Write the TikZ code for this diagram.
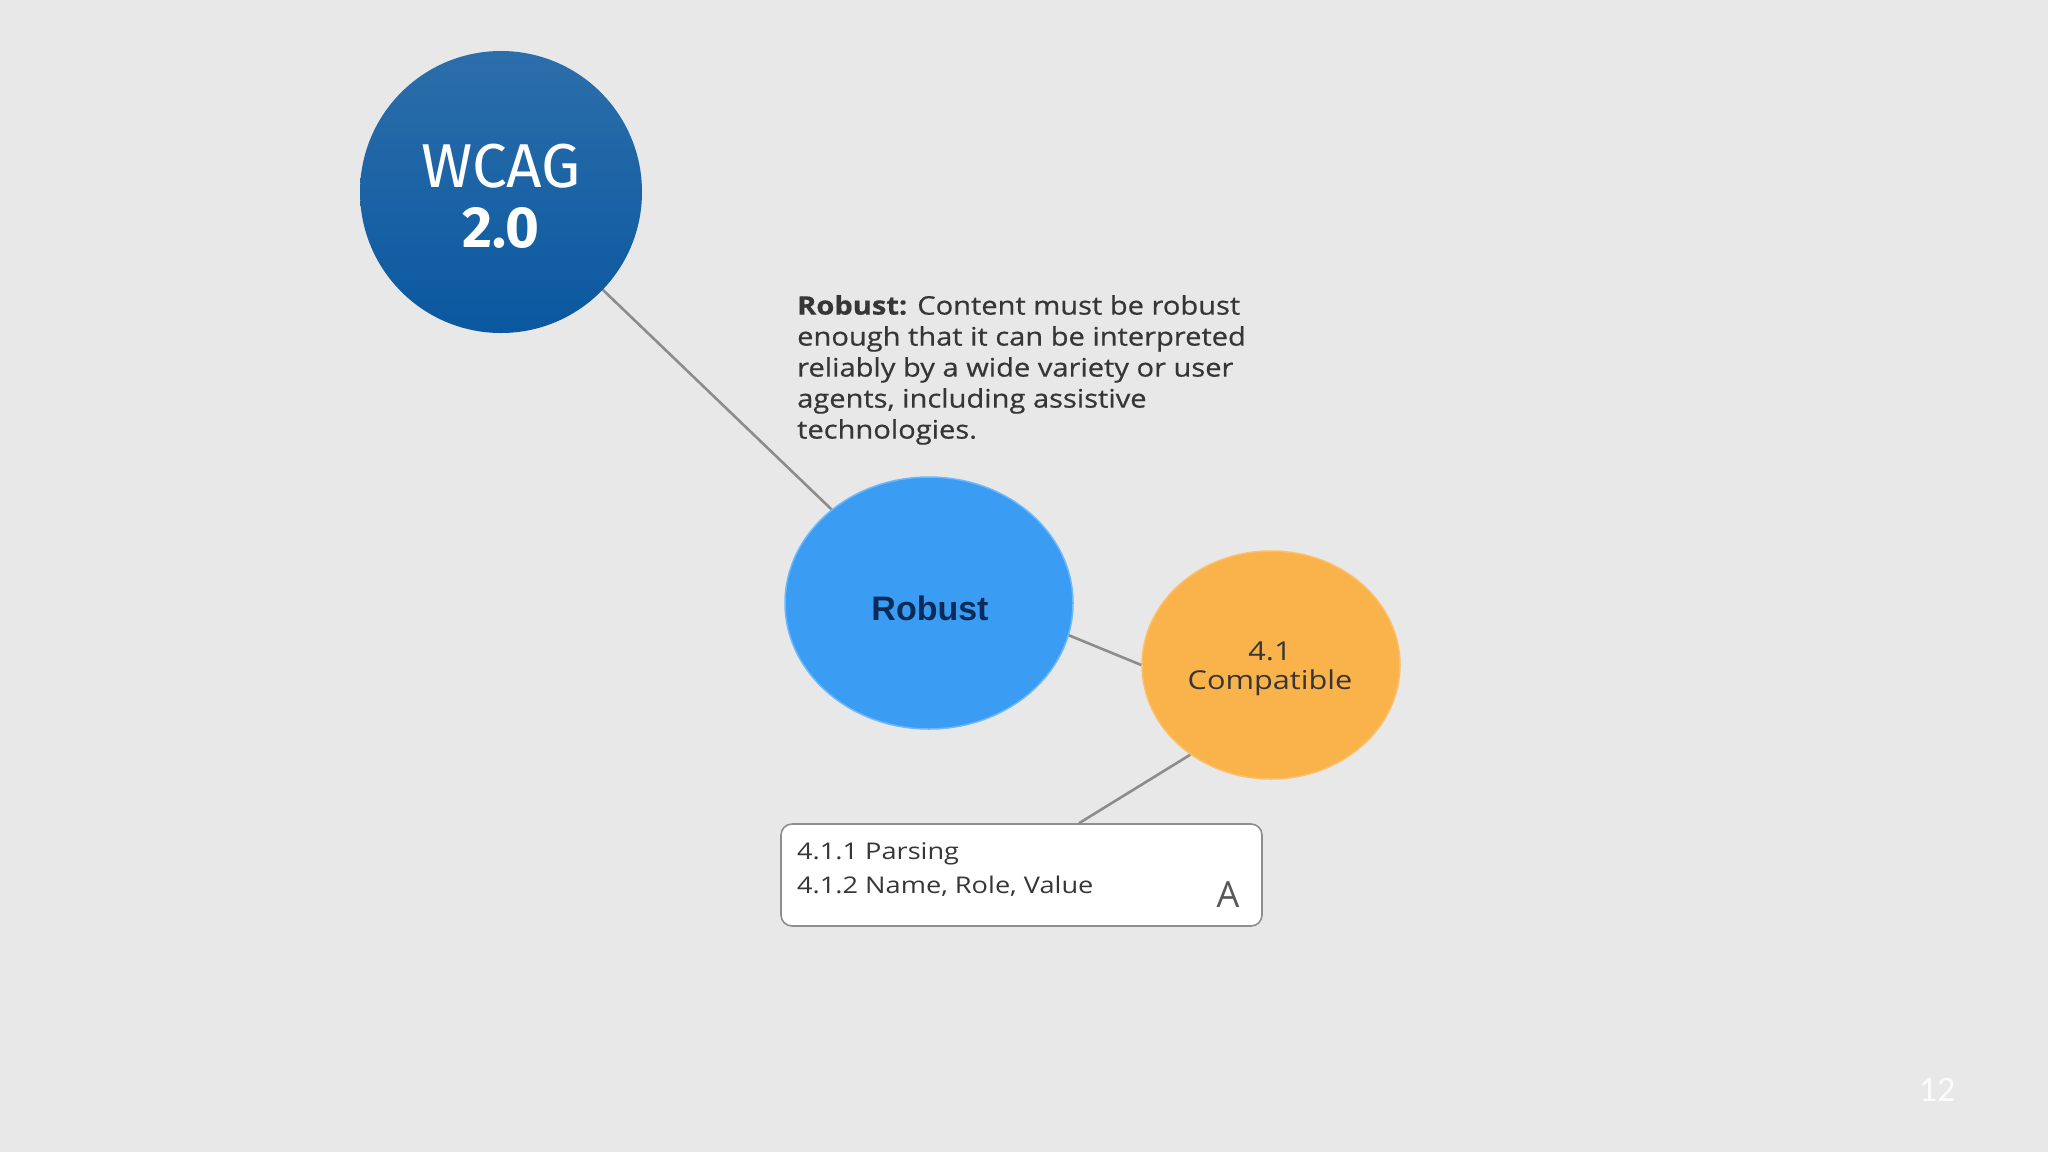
\documentclass[tikz,border=0pt]{standalone}
\usepackage{fontspec}
\setmainfont{Open Sans}
\newfontfamily\descfont[FakeStretch=1.14,FakeBold=0.6]{Open Sans}
\newfontfamily\boxfont[FakeStretch=1.18]{Open Sans}
\newfontfamily\fira{Fira Sans}
\newfontfamily\libsans{Liberation Sans}
\newfontfamily\carl{Carlito}
\usetikzlibrary{shapes.geometric,calc}
\definecolor{bg}{HTML}{E8E8E8}
\definecolor{wcagtop}{HTML}{2C6EAA}
\definecolor{wcagbot}{HTML}{0A58A0}
\definecolor{robfill}{HTML}{3B9CF4}
\definecolor{robedge}{HTML}{6DB9FB}
\definecolor{orfill}{HTML}{FAB24B}
\definecolor{oredge}{HTML}{FCC06A}
\definecolor{conn}{HTML}{8C8C8C}
\definecolor{boxedge}{HTML}{8E8E8E}
\definecolor{desc}{HTML}{363636}
\definecolor{navy}{HTML}{0B2C5A}
\tikzset{
  connector/.style={draw=conn, line width=2.6pt},
  bubble/.style={ellipse, inner sep=0pt},
  desctext/.style={text=desc, inner sep=0pt, align=left},
}
\begin{document}
\begin{tikzpicture}[x=1pt,y=-1pt]
\fill[bg] (0,0) rectangle (2048,1152);
\useasboundingbox (0,0) rectangle (2048,1152);

% nodes
\node[circle, minimum size=282pt, inner sep=0pt, top color=wcagtop, bottom color=wcagbot] (wcag) at (501,192) {};
\node[anchor=base, inner sep=0pt, text=white, font=\fira\fontsize{62}{62}\selectfont] (wcagt) at (501,187) {WCAG};
\node[anchor=base, inner sep=0pt, text=white, font=\fira\bfseries\fontsize{58}{58}\selectfont] (wcagn) at (501,247) {2.0};

\node[bubble, minimum width=288pt, minimum height=252pt, fill=robfill, draw=robedge, line width=1.5pt] (robust) at (929,603) {};
\node[inner sep=0pt, text=navy, font=\libsans\bfseries\fontsize{34}{34}\selectfont] (robustt) at (930,608) {Robust};

\node[bubble, minimum width=258pt, minimum height=228pt, fill=orfill, draw=oredge, line width=1.5pt] (compat) at (1271,665) {};
\node[inner sep=0pt, align=center, text=desc, font=\boxfont\fontsize{26}{29}\selectfont] (compatt) at (1270,669) {4.1\\Compatible};

\node[draw=boxedge, line width=1.6pt, fill=white, rounded corners=11pt, minimum width=481pt, minimum height=102pt, inner sep=0pt] (box) at (1021.5,875) {};
\node[desctext, anchor=north west, font=\boxfont\fontsize{23}{34}\selectfont] (boxt) at (797,842) {4.1.1 Parsing\\4.1.2 Name, Role, Value};
\node[anchor=base, inner sep=0pt, text=black!65, font=\fontsize{36}{36}\selectfont] (grade) at (1228,907) {A};

\node[desctext, anchor=north west, font=\descfont\fontsize{25.5}{31}\selectfont] (desc) at (797,295) {\textbf{Robust:} Content must be robust\\enough that it can be interpreted\\reliably by a wide variety or user\\agents, including assistive\\technologies.};

\node[anchor=base, inner sep=0pt, text=white!97!gray, font=\carl\fontsize{36}{36}\selectfont] (pagenum) at (1937,1101) {12};

% connectors
\draw[connector] (wcag) -- (robust);
\draw[connector] (robust.-13.5) -- (compat.180);
\draw[connector] (compat.228) -- ($(box.north)+(57.5,0)$);
\end{tikzpicture}
\end{document}
